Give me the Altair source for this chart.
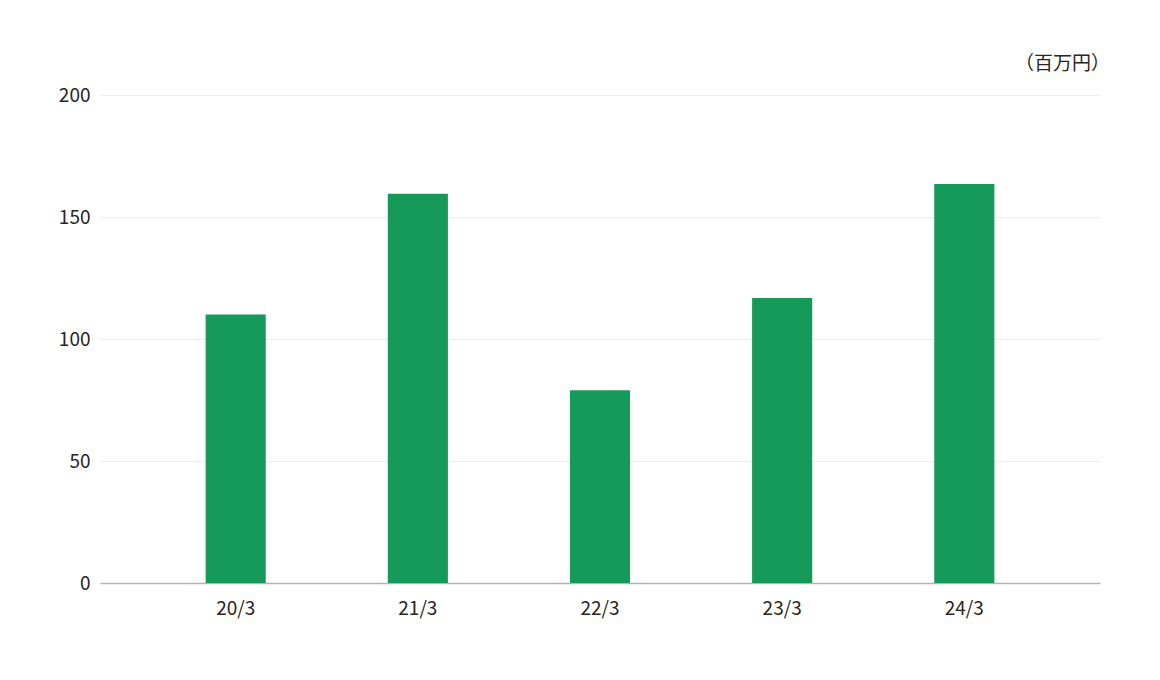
import altair as alt
import pandas as pd

categories = ["20/3", "21/3", "22/3", "23/3", "24/3"]
values = [110, 159.5, 79, 116.8, 163.5]
unit_label = "（百万円）"

df = pd.DataFrame({"period": categories, "value": values})

FONT = "Noto Sans CJK JP"
TEXT = "#2b2421"

bars = alt.Chart(df).mark_bar(color="#159a5a").encode(
    x=alt.X("period:N", sort=categories, title=None,
            scale=alt.Scale(paddingInner=0.67, paddingOuter=0.58),
            axis=alt.Axis(labelAngle=0, ticks=False, domainColor="#b4b4b4",
                          domainWidth=1.5, labelPadding=16, labelFontSize=19,
                          labelColor=TEXT, labelFont=FONT)),
    y=alt.Y("value:Q", title=None,
            scale=alt.Scale(domain=[0, 200]),
            axis=alt.Axis(values=[0, 50, 100, 150, 200], domain=False, ticks=False,
                          gridColor="#ececec", labelPadding=10, labelFontSize=19,
                          labelColor=TEXT, labelFont=FONT)),
)

unit = alt.Chart(pd.DataFrame({"t": [unit_label]})).mark_text(
    align="right", baseline="middle", fontSize=19, font=FONT, color=TEXT
).encode(text="t:N", x=alt.value(1010), y=alt.value(-31))

chart = alt.layer(bars, unit).properties(
    width=1000, height=488,
    autosize=alt.AutoSizeParams(type="none"),
    padding={"left": 92, "top": 87, "right": 50, "bottom": 80},
).configure(background="white").configure_view(stroke=None, strokeWidth=0)

chart.save("out.html", embed_options={"renderer": "svg", "actions": False})
